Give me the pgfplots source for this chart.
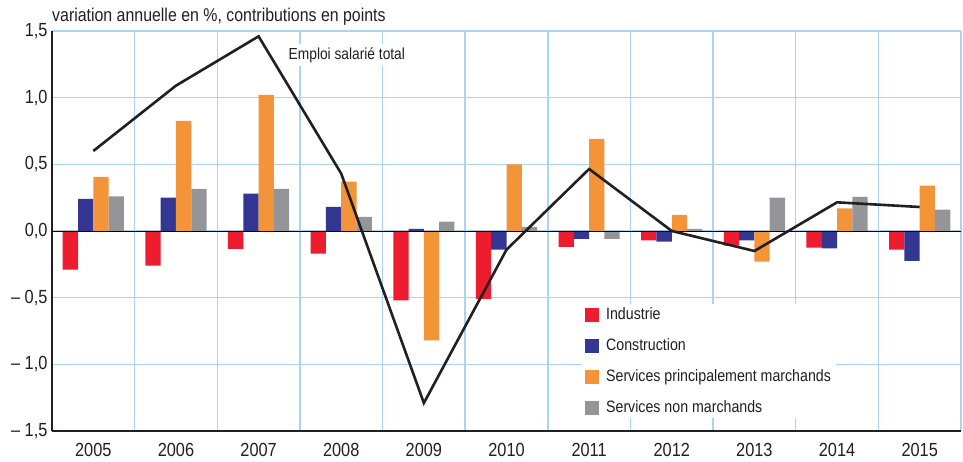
\documentclass[border=0pt]{standalone}
\usepackage{pgfplots}
\pgfplotsset{compat=1.18}
\usepackage{fontspec}
\setmainfont{Liberation Sans}[FakeStretch=0.86]

\definecolor{cInd}{RGB}{237,28,46}
\definecolor{cCon}{RGB}{51,55,145}
\definecolor{cSpm}{RGB}{244,148,56}
\definecolor{cSnm}{RGB}{148,149,153}
\definecolor{cGrid}{RGB}{170,212,240}
\definecolor{cTxt}{RGB}{35,31,32}

\pgfplotstableread{
x  ind     con    spm    snm    tot
0  -0.29   0.24   0.405  0.26   0.60
1  -0.26   0.25   0.825  0.315  1.09
2  -0.135  0.28   1.02   0.315  1.46
3  -0.17   0.18   0.37   0.105  0.43
4  -0.52   0.015 -0.82   0.07  -1.29
5  -0.51  -0.14   0.50   0.03  -0.14
6  -0.12  -0.06   0.69  -0.06   0.465
7  -0.07  -0.08   0.12   0.015  0.0
8  -0.11  -0.07  -0.23   0.25  -0.15
9  -0.125 -0.13   0.17   0.255  0.215
10 -0.14  -0.225  0.34   0.16   0.18
}\data

\begin{document}
\begin{tikzpicture}
\begin{axis}[
  name=ax,
  scale only axis,
  width=909pt, height=400pt,
  xmin=-0.5, xmax=10.5,
  ymin=-1.5, ymax=1.5,
  xtick={0,...,10},
  xticklabels={2005,2006,2007,2008,2009,2010,2011,2012,2013,2014,2015},
  minor xtick={-0.5,0.5,...,10.5},
  ytick={-1.5,-1,-0.5,0,0.5,1,1.5},
  yticklabels={{– 1,5},{– 1,0},{– 0,5},{0,0},{0,5},{1,0},{1,5}},
  major tick length=0pt, minor tick length=0pt,
  xmajorgrids=false, xminorgrids=true, ymajorgrids=true,
  grid style={cGrid, line width=1.4pt},
  minor grid style={cGrid, line width=1.4pt},
  axis x line*=bottom, axis y line*=left,
  axis line style={cTxt, line width=1.8pt, -},
  tick label style={font=\fontsize{19}{22}\selectfont, text=cTxt},
  xticklabel style={yshift=-9pt},
  yticklabel style={xshift=-1pt},
  clip=false,
  legend style={at={(0.583,0.318)}, anchor=north west, draw=none, fill=white,
    font=\fontsize{16.5}{19}\selectfont, text=cTxt, inner xsep=3pt, inner ysep=2pt,
    row sep=13.5pt, cells={anchor=west}},
  legend image code/.code={\fill[#1] (0pt,-7pt) rectangle (14pt,7pt);},
]
\addplot[ybar, bar width=15.3pt, bar shift=-22.95pt, fill=cInd, draw=none] table[x=x,y=ind]{\data};
\addlegendentry{\hspace{5pt}Industrie}
\addplot[ybar, bar width=15.3pt, bar shift=-7.65pt, fill=cCon, draw=none] table[x=x,y=con]{\data};
\addlegendentry{\hspace{5pt}Construction}
\addplot[ybar, bar width=15.3pt, bar shift=7.65pt, fill=cSpm, draw=none] table[x=x,y=spm]{\data};
\addlegendentry{\hspace{5pt}Services principalement marchands}
\addplot[ybar, bar width=15.3pt, bar shift=22.95pt, fill=cSnm, draw=none] table[x=x,y=snm]{\data};
\addlegendentry{\hspace{5pt}Services non marchands}
\addplot[black, line width=0.8pt, forget plot] coordinates {(-0.5,0) (10.5,0)};
\addplot[cTxt, line width=2.6pt, mark=none, forget plot] table[x=x,y=tot]{\data};
\node[anchor=west, fill=white, inner xsep=1pt, text=cTxt, font=\fontsize{16}{18}\selectfont]
  at (axis cs:2.35,1.32) {Emploi salarié total};
\end{axis}
\node[anchor=base west, inner sep=0pt, text=cTxt, font=\fontsize{18.5}{21}\selectfont]
  at ([yshift=9pt]ax.north west) {variation annuelle en \%, contributions en points};
\pgfresetboundingbox
\path ([shift={(-52pt,-31pt)}]ax.south west) rectangle ([shift={(2pt,31pt)}]ax.north east);
\end{tikzpicture}
\end{document}
